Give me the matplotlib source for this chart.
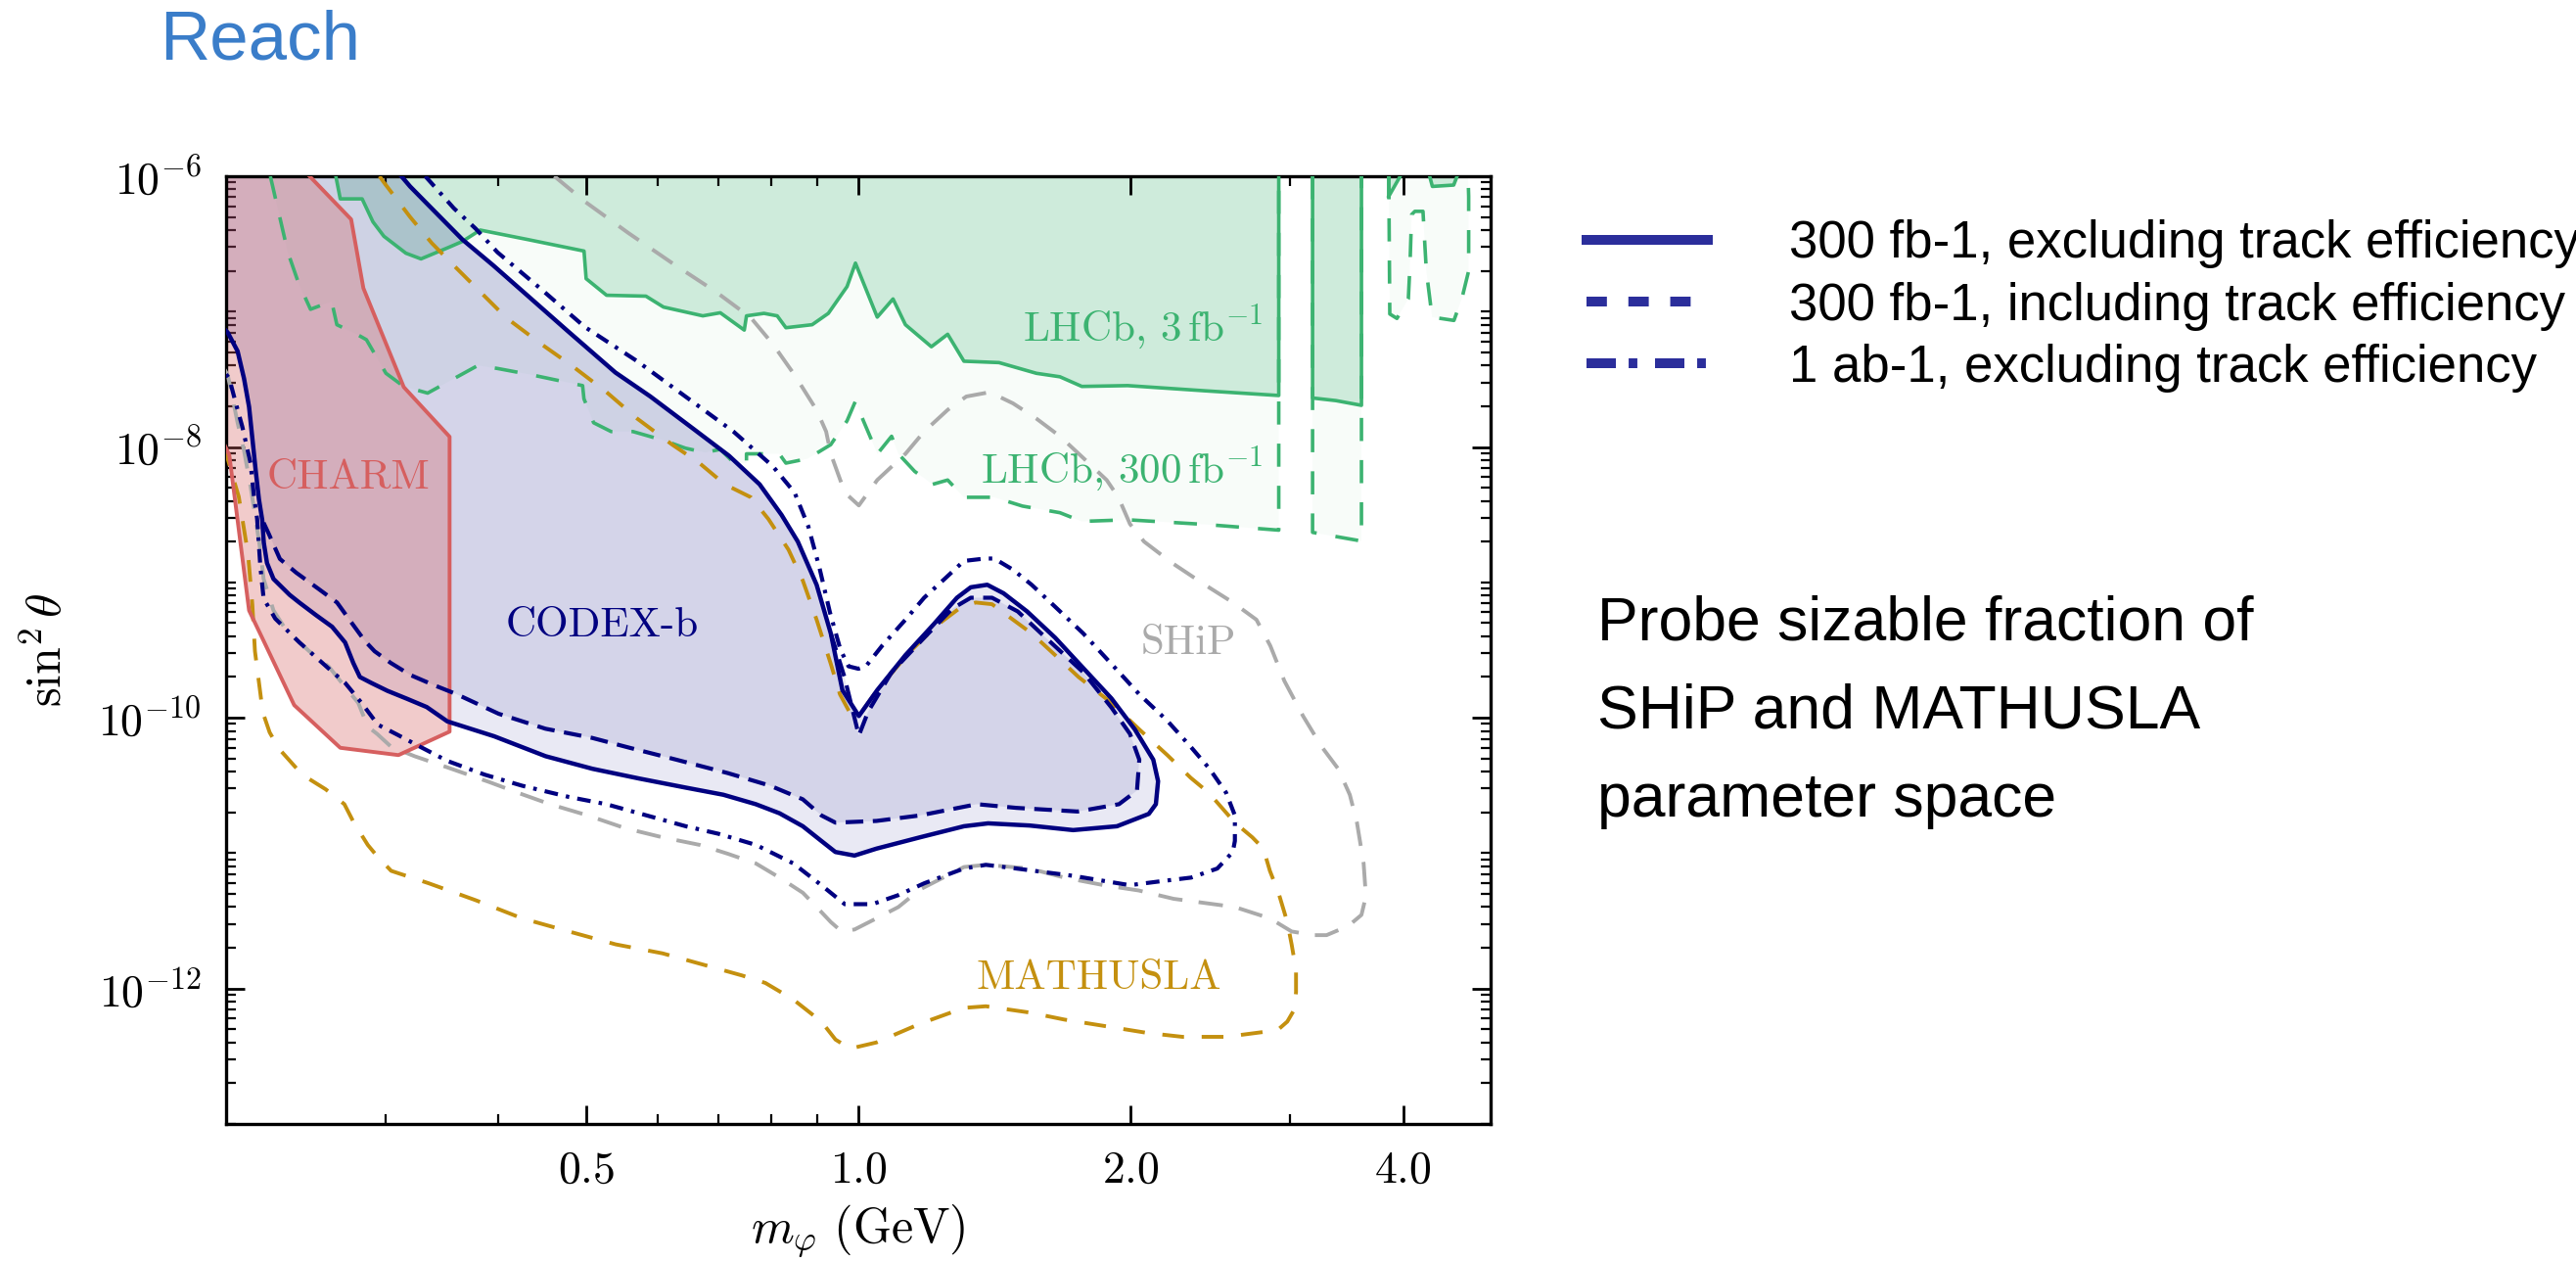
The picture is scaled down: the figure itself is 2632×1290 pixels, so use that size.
import numpy as np
import matplotlib
matplotlib.use("Agg")
import matplotlib.pyplot as plt
from matplotlib.ticker import FixedLocator, FixedFormatter, NullFormatter
from matplotlib.lines import Line2D

plt.rcParams['mathtext.fontset'] = 'cm'
plt.rcParams['lines.scale_dashes'] = False

# ---------------- data: m_phi (GeV) and sin^2 theta ----------------
charm_m = [0.2473, 0.2749, 0.2836, 0.3143, 0.3532, 0.3532, 0.3101, 0.2674, 0.2378, 0.2200, 0.2120, 0.2016, 0.1990]
charm_s = [1.0e-6, 4.8e-7, 1.49e-7, 2.77e-8, 1.19e-8, 7.9e-11, 5.3e-11, 6.0e-11, 1.24e-10, 3.7e-10, 6.2e-10, 8.7e-9, 1.05e-8]

# LHCb 3 fb^-1 (solid), four pieces
lhcb3_m = [0.2644, 0.2674, 0.2827, 0.2906, 0.2988, 0.3160, 0.3284, 0.3532, 0.3650, 0.3818, 0.4314, 0.4973,
           0.5000, 0.5267, 0.5822, 0.6088, 0.6729, 0.7035, 0.7478, 0.7520, 0.7863, 0.8132, 0.8314, 0.8888,
           0.9262, 0.9714, 0.9924, 1.049, 1.092, 1.127, 1.204, 1.255, 1.308, 1.430, 1.573, 1.670, 1.766,
           1.984, 2.415, 2.915, 2.915]
lhcb3_s = [1.0e-6, 6.8e-7, 6.8e-7, 4.6e-7, 3.6e-7, 2.7e-7, 2.45e-7, 3.0e-7, 3.3e-7, 4.0e-7, 3.4e-7, 2.8e-7,
           1.75e-7, 1.32e-7, 1.30e-7, 1.08e-7, 9.3e-8, 9.8e-8, 7.3e-8, 9.3e-8, 9.7e-8, 9.3e-8, 7.6e-8, 8.0e-8,
           9.7e-8, 1.53e-7, 2.28e-7, 9.1e-8, 1.24e-7, 8.0e-8, 5.5e-8, 6.8e-8, 4.3e-8, 4.2e-8, 3.5e-8, 3.3e-8, 2.8e-8,
           2.84e-8, 2.6e-8, 2.4e-8, 1.0e-6]
lhcb3b_m = [3.177, 3.177, 3.372, 3.598, 3.598]
lhcb3b_s = [1.0e-6, 2.3e-8, 2.2e-8, 2.03e-8, 1.0e-6]
lhcb3c_m = [3.857, 3.857, 3.971]
lhcb3c_s = [1.0e-6, 7.1e-7, 1.0e-6]
lhcb3d_m = [4.28, 4.31, 4.55, 4.59]
lhcb3d_s = [1.0e-6, 8.4e-7, 8.6e-7, 1.0e-6]

# LHCb 300 fb^-1 (dashed), three pieces
lhcb300_m = [0.2238, 0.2340, 0.2404, 0.2479, 0.2616, 0.2651, 0.2789, 0.2858, 0.3004, 0.3143, 0.3340, 0.3796,
             0.3990, 0.4361, 0.4955, 0.4972, 0.5096, 0.5328, 0.5632, 0.6088, 0.6437, 0.6766, 0.7035, 0.7274,
             0.7520, 0.7520, 0.8175, 0.8314, 0.8788, 0.9318, 0.9714, 0.9924, 1.0127, 1.0495, 1.088, 1.107,
             1.154, 1.208, 1.255, 1.308, 1.413, 1.518, 1.670, 1.766, 1.984, 2.415, 2.915, 2.915]
lhcb300_s = [1.0e-6, 2.74e-7, 1.63e-7, 1.04e-7, 1.19e-7, 8.0e-8, 6.8e-8, 6.2e-8, 3.5e-8, 2.8e-8, 2.5e-8, 4.0e-8,
             3.8e-8, 3.4e-8, 2.84e-8, 2.27e-8, 1.51e-8, 1.30e-8, 1.30e-8, 1.12e-8, 9.8e-9, 9.1e-9, 9.6e-9, 7.7e-9,
             7.6e-9, 8.9e-9, 8.9e-9, 7.6e-9, 8.2e-9, 1.04e-8, 1.56e-8, 2.18e-8, 1.56e-8, 8.9e-9, 1.2e-8, 8.9e-9,
             6.6e-9, 5.3e-9, 5.7e-9, 4.25e-9, 4.25e-9, 3.66e-9, 3.27e-9, 2.82e-9, 2.9e-9, 2.68e-9, 2.43e-9, 1.0e-6]
lhcb300b_m = [3.177, 3.177, 3.372, 3.598, 3.598]
lhcb300b_s = [1.0e-6, 2.34e-9, 2.18e-9, 2.02e-9, 1.0e-6]
lhcb300c_m = [3.857, 3.867, 3.938, 4.054, 4.071, 4.088, 4.122, 4.208, 4.226, 4.244, 4.307, 4.553, 4.649,
              4.727, 4.727, 4.720]
lhcb300c_s = [1.0e-6, 9.6e-8, 8.9e-8, 1.24e-7, 2.2e-7, 5.2e-7, 5.5e-7, 5.5e-7, 3.3e-7, 2.0e-7, 9.1e-8, 8.6e-8,
              1.27e-7, 2.0e-7, 7.1e-7, 1.0e-6]

# CODEX-b, split into shared upper branch, shared left edge and the two lower branches
codex_top_m = [0.3124, 0.3194, 0.3340, 0.3650, 0.3948, 0.4314, 0.4769, 0.5386, 0.5888, 0.6580, 0.7194,
               0.7775, 0.8222, 0.857, 0.899, 0.932]
codex_top_s = [1.0e-6, 8.4e-7, 6.2e-7, 3.4e-7, 2.19e-7, 1.30e-7, 7.2e-8, 3.55e-8, 2.36e-8, 1.35e-8, 8.6e-9,
               5.3e-9, 3.15e-9, 2.0e-9, 9.6e-10, 4.2e-10]
codex_sol_m = [0.960, 1.001, 1.049, 1.127, 1.211, 1.285, 1.331, 1.388, 1.447, 1.536, 1.650, 1.772, 1.904,
               2.021, 2.118, 2.144, 2.132, 2.094, 1.931, 1.727, 1.546, 1.391, 1.308, 1.170, 1.047, 0.990,
               0.943, 0.910, 0.868, 0.818, 0.770, 0.709, 0.644, 0.572, 0.508, 0.451, 0.3956, 0.3512, 0.3332,
               0.3170, 0.3016, 0.2893, 0.2811, 0.2764, 0.2707, 0.2619, 0.2512, 0.2409, 0.2350, 0.2256,
               0.2219, 0.2201]
codex_sol_s = [1.6e-10, 1.03e-10, 1.6e-10, 2.9e-10, 4.9e-10, 7.7e-10, 9.2e-10, 9.6e-10, 8.3e-10, 6.1e-10,
               3.9e-10, 2.33e-10, 1.39e-10, 8.2e-11, 4.9e-11, 3.4e-11, 2.3e-11, 1.95e-11, 1.58e-11, 1.48e-11,
               1.6e-11, 1.66e-11, 1.58e-11, 1.31e-11, 1.08e-11, 9.6e-12, 1.02e-11, 1.23e-11, 1.58e-11, 1.97e-11,
               2.3e-11, 2.7e-11, 3.05e-11, 3.56e-11, 4.2e-11, 5.2e-11, 7.3e-11, 9.4e-11, 1.2e-10, 1.38e-10,
               1.58e-10, 1.81e-10, 2.0e-10, 2.54e-10, 3.6e-10, 4.7e-10, 5.75e-10, 7.1e-10, 8.1e-10, 1.06e-9,
               1.39e-9, 1.96e-9]
codex_dash_m = [0.965, 1.001, 1.025, 1.088, 1.182, 1.270, 1.331, 1.405, 1.500, 1.611, 1.772, 1.904, 1.996,
                2.044, 2.032, 1.941, 1.747, 1.495, 1.352, 1.170, 1.047, 0.9432, 0.9100, 0.8678, 0.7986, 0.7173,
                0.6292, 0.5586, 0.5077, 0.4508, 0.4002, 0.3590, 0.3388, 0.3196, 0.3041, 0.2918, 0.2846, 0.2754,
                0.2652, 0.2533, 0.2390, 0.2293, 0.2228]
codex_dash_s = [2.0e-10, 7.4e-11, 1.11e-10, 2.17e-10, 3.9e-10, 6.4e-10, 7.7e-10, 7.7e-10, 6.1e-10, 3.9e-10,
                2.17e-10, 1.19e-10, 7.6e-11, 4.9e-11, 2.9e-11, 2.3e-11, 2.03e-11, 2.16e-11, 2.3e-11, 1.9e-11,
                1.73e-11, 1.68e-11, 1.9e-11, 2.5e-11, 3.15e-11, 3.9e-11, 4.9e-11, 6.0e-11, 7.1e-11, 8.3e-11,
                1.07e-10, 1.5e-10, 1.75e-10, 2.07e-10, 2.54e-10, 3.1e-10, 3.7e-10, 5.0e-10, 7.1e-10, 8.9e-10,
                1.18e-9, 1.49e-9, 2.3e-9]
codex_left_m = [0.2192, 0.2174, 0.2156, 0.2138, 0.2120, 0.2093, 0.2059, 0.2008, 0.1985]
codex_left_s = [2.9e-9, 4.1e-9, 6.7e-9, 1.15e-8, 1.98e-8, 3.2e-8, 5.1e-8, 7.0e-8, 7.6e-8]

# CODEX-b 1 ab^-1 (dash-dot)
ab_m = [0.332, 0.3570, 0.3774, 0.3990, 0.4461, 0.4983, 0.5694, 0.6437, 0.7274, 0.8042, 0.8500, 0.880, 0.905,
        0.930, 0.955, 0.975, 1.000, 1.019, 1.062, 1.127, 1.182, 1.247, 1.308, 1.380, 1.413, 1.482, 1.554,
        1.650, 1.772, 1.904, 2.044, 2.195, 2.330, 2.444, 2.549, 2.607, 2.607, 2.593, 2.493, 2.332, 2.158,
        1.995, 1.727, 1.495, 1.383, 1.308, 1.183, 1.107, 1.036, 0.9658, 0.9100, 0.8472, 0.7705, 0.7003,
        0.6444, 0.5720, 0.5263, 0.4786, 0.4247, 0.3862, 0.3512, 0.3278, 0.3092, 0.2942, 0.2822, 0.2707,
        0.2598, 0.2410, 0.2266, 0.2200, 0.2182, 0.2164, 0.2146, 0.2128, 0.2084, 0.2050, 0.2016, 0.1990]
ab_s = [1.0e-6, 5.8e-7, 4.1e-7, 2.74e-7, 1.46e-7, 7.7e-8, 4.3e-8, 2.36e-8, 1.30e-8, 7.2e-9, 4.6e-9, 2.6e-9,
        1.3e-9, 6.0e-10, 3.2e-10, 2.4e-10, 2.3e-10, 2.4e-10, 3.4e-10, 5.3e-10, 7.7e-10, 1.07e-9, 1.44e-9,
        1.5e-9, 1.5e-9, 1.24e-9, 9.6e-10, 6.6e-10, 4.2e-10, 2.5e-10, 1.49e-10, 9.5e-11, 6.1e-11, 4.2e-11,
        2.8e-11, 1.9e-11, 1.23e-11, 1.02e-11, 7.7e-12, 6.6e-12, 6.2e-12, 5.8e-12, 6.8e-12, 7.7e-12, 8.2e-12,
        7.7e-12, 6.0e-12, 4.9e-12, 4.2e-12, 4.2e-12, 5.8e-12, 8.4e-12, 1.15e-11, 1.39e-11, 1.58e-11, 1.97e-11,
        2.3e-11, 2.6e-11, 3.15e-11, 3.8e-11, 4.8e-11, 6.1e-11, 7.5e-11, 8.9e-11, 1.29e-10, 1.81e-10, 2.3e-10,
        3.6e-10, 5.4e-10, 7.6e-10, 1.3e-9, 2.94e-9, 4.4e-9, 7.6e-9, 1.41e-8, 2.1e-8, 3.2e-8, 3.6e-8]

# SHiP
ship_m = [0.4611, 0.4983, 0.5569, 0.6225, 0.6957, 0.7605, 0.8042, 0.8500, 0.8987, 0.921, 0.932, 0.966, 1.001,
          1.049, 1.127, 1.182, 1.255, 1.316, 1.397, 1.482, 1.573, 1.670, 1.772, 1.881, 1.938, 1.996, 2.069,
          2.222, 2.415, 2.594, 2.754, 2.853, 2.957, 3.101, 3.252, 3.391, 3.493, 3.557, 3.618, 3.639, 3.598,
          3.480, 3.292, 3.184, 3.012, 2.850, 2.607, 2.231, 2.041, 1.867, 1.689, 1.546, 1.383, 1.308, 1.170,
          1.107, 1.047, 0.990, 0.958, 0.932, 0.899, 0.868, 0.818, 0.770, 0.717, 0.668, 0.607, 0.552, 0.502,
          0.456, 0.4198, 0.3908, 0.3512, 0.3231, 0.3044, 0.2937, 0.2868, 0.2799, 0.2707, 0.2598, 0.2471,
          0.2332, 0.2256, 0.2200, 0.2182, 0.2156, 0.2128, 0.2093, 0.2059, 0.2025, 0.2008, 0.1980]
ship_s = [1.0e-6, 6.5e-7, 3.8e-7, 2.28e-7, 1.40e-7, 9.0e-8, 5.75e-8, 3.4e-8, 1.88e-8, 1.30e-8, 8.9e-9, 4.6e-9,
          3.7e-9, 5.7e-9, 8.9e-9, 1.30e-8, 1.88e-8, 2.36e-8, 2.54e-8, 2.1e-8, 1.62e-8, 1.2e-8, 8.3e-9, 5.7e-9,
          4.25e-9, 2.7e-9, 2.0e-9, 1.39e-9, 9.6e-10, 7.1e-10, 5.3e-10, 3.4e-10, 1.87e-10, 1.03e-10, 6.1e-11,
          4.2e-11, 2.7e-11, 1.68e-11, 8.4e-12, 4.8e-12, 3.5e-12, 2.9e-12, 2.48e-12, 2.48e-12, 2.64e-12, 3.3e-12,
          4.0e-12, 4.6e-12, 5.3e-12, 5.8e-12, 6.6e-12, 7.7e-12, 8.2e-12, 7.9e-12, 5.4e-12, 4.0e-12, 3.3e-12,
          2.73e-12, 2.64e-12, 3.1e-12, 4.0e-12, 5.1e-12, 6.6e-12, 8.4e-12, 9.9e-12, 1.15e-11, 1.31e-11, 1.53e-11,
          1.9e-11, 2.3e-11, 2.8e-11, 3.35e-11, 4.3e-11, 5.2e-11, 6.1e-11, 7.6e-11, 8.6e-11, 1.29e-10, 1.69e-10,
          2.38e-10, 3.1e-10, 4.4e-10, 6.2e-10, 1.06e-9, 1.71e-9, 2.94e-9, 5.1e-9, 9.4e-9, 1.51e-8, 2.6e-8,
          3.4e-8, 4.0e-8]

# MATHUSLA
math_m = [0.2955, 0.2988, 0.3194, 0.3376, 0.3570, 0.3818, 0.4080, 0.4461, 0.4818, 0.5267, 0.5694, 0.6225,
          0.6656, 0.7115, 0.7605, 0.7953, 0.837, 0.868, 0.899, 0.932, 0.954, 0.977, 1.001, 1.049, 1.141, 1.225,
          1.300, 1.348, 1.405, 1.482, 1.554, 1.650, 1.751, 1.904, 2.044, 2.195, 2.330, 2.438, 2.607, 2.725,
          2.803, 2.850, 2.913, 2.979, 3.012, 3.046, 3.046, 3.029, 2.979, 2.913, 2.818, 2.549, 2.281, 2.087,
          1.867, 1.689, 1.546, 1.383, 1.308, 1.170, 1.047, 0.979, 0.9432, 0.9100, 0.8472, 0.7890, 0.7433,
          0.6839, 0.6072, 0.5390, 0.4786, 0.4248, 0.3772, 0.3347, 0.3044, 0.2937, 0.2868, 0.2768, 0.2702,
          0.2577, 0.2427, 0.2288, 0.2234, 0.2195, 0.2182, 0.2152, 0.2138, 0.2115, 0.2065, 0.2030, 0.2000, 0.1970]
math_s = [1.0e-6, 9.0e-7, 5.0e-7, 3.2e-7, 2.19e-7, 1.40e-7, 9.0e-8, 5.75e-8, 4.0e-8, 2.54e-8, 1.62e-8, 1.04e-8,
          7.7e-9, 5.3e-9, 4.25e-9, 2.93e-9, 1.74e-9, 1.03e-9, 5.3e-10, 2.5e-10, 1.49e-10, 1.11e-10, 1.03e-10,
          1.6e-10, 3.1e-10, 4.9e-10, 6.6e-10, 7.1e-10, 6.9e-10, 5.3e-10, 4.2e-10, 2.9e-10, 2.0e-10, 1.29e-10,
          8.2e-11, 5.3e-11, 3.6e-11, 2.8e-11, 1.68e-11, 1.31e-11, 1.08e-11, 7.4e-12, 5.1e-12, 3.1e-12, 2.12e-12,
          1.37e-12, 9.4e-13, 6.9e-13, 5.7e-13, 5.0e-13, 4.8e-13, 4.4e-13, 4.4e-13, 4.7e-13, 5.3e-13, 5.9e-13,
          6.65e-13, 7.4e-13, 7.2e-13, 5.5e-13, 4.0e-13, 3.6e-13, 4.2e-13, 5.7e-13, 8.3e-13, 1.1e-12, 1.25e-12,
          1.46e-12, 1.82e-12, 2.12e-12, 2.64e-12, 3.3e-12, 4.5e-12, 6.0e-12, 7.4e-12, 9.5e-12, 1.15e-11,
          1.68e-11, 2.3e-11, 2.96e-11, 3.8e-11, 5.9e-11, 7.8e-11, 1.1e-10, 1.51e-10, 3.1e-10, 6.8e-10, 1.6e-9,
          4.3e-9, 6.3e-9, 9.0e-9, 1.1e-8]

xticks = [0.5, 1.0, 2.0, 4.0]
xtick_labels = ['$0.5$', '$1.0$', '$2.0$', '$4.0$']
xminor = [0.3, 0.4, 0.6, 0.7, 0.8, 0.9, 3.0]
yticks = [1e-12, 1e-10, 1e-8, 1e-6]
ytick_labels = ['$10^{-12}$', '$10^{-10}$', '$10^{-8}$', '$10^{-6}$']

legend_labels = ['300 fb-1, excluding track efficiency',
                 '300 fb-1, including track efficiency',
                 '1 ab-1, excluding track efficiency']

navy = '#000080'
green = '#3cb371'
red = '#d65f5f'
grey = '#aaaaaa'
gold = '#c4900f'

xlo, xhi = 0.2, 5.0
ylo, yhi = 1e-13, 1e-6

fig = plt.figure(figsize=(13.16, 6.45), dpi=200)
ax = fig.add_axes([0.0878, 0.1101, 0.4909, 0.7504])
ax.set_xscale('log')
ax.set_yscale('log')

# outside-of-frame helpers for closing the filled regions
xout = xlo * 0.95
yout = yhi * 1.2


def top_region(m, s, color, alpha):
    ax.fill(m + [m[-1], m[0]], s + [yout, yout], color=color, alpha=alpha, lw=0, zorder=1)


# LHCb 300 fb-1 (very pale) and 3 fb-1 fills
for m, s in [(lhcb300_m, lhcb300_s), (lhcb300b_m, lhcb300b_s), (lhcb300c_m, lhcb300c_s)]:
    top_region(m, s, green, 0.035)
for m, s in [(lhcb3_m, lhcb3_s), (lhcb3b_m, lhcb3b_s), (lhcb3c_m, lhcb3c_s), (lhcb3d_m, lhcb3d_s)]:
    top_region(m, s, green, 0.22)

# CODEX-b fills
sol_m = codex_top_m + codex_sol_m + codex_left_m
sol_s = codex_top_s + codex_sol_s + codex_left_s
dsh_m = codex_top_m + codex_dash_m + codex_left_m
dsh_s = codex_top_s + codex_dash_s + codex_left_s
for m, s in [(sol_m, sol_s), (dsh_m, dsh_s)]:
    ax.fill(m + [xout, xout, m[0]], s + [s[-1], yout, yout], color=navy, alpha=0.085, lw=0, zorder=2)

# CHARM fill
ax.fill(charm_m + [xout, xout, charm_m[0]], charm_s + [charm_s[-1], yout, yout],
        color=red, alpha=0.32, lw=0, zorder=2)

# boundary lines
for m, s in [(lhcb3_m, lhcb3_s), (lhcb3b_m, lhcb3b_s), (lhcb3c_m[1:], lhcb3c_s[1:]), (lhcb3d_m, lhcb3d_s)]:
    ax.plot(m, s, color=green, lw=1.3, zorder=3)
ax.plot([lhcb3c_m[0], lhcb3c_m[1]], [lhcb3c_s[0], lhcb3c_s[1]], color=green, lw=1.3, zorder=3)
for m, s in [(lhcb300_m, lhcb300_s), (lhcb300b_m, lhcb300b_s), (lhcb300c_m, lhcb300c_s)]:
    ax.plot(m, s, color=green, lw=1.3, ls=(0, (8.5, 7)), zorder=3)

ax.plot(ship_m, ship_s, color=grey, lw=1.4, ls=(0, (9, 6)), zorder=3)
ax.plot(math_m, math_s, color=gold, lw=1.4, ls=(0, (8, 6.5)), zorder=3)
ax.plot(charm_m, charm_s, color=red, lw=1.4, zorder=3)

ax.plot(ab_m, ab_s, color=navy, lw=1.5, ls=(0, (5, 3, 1.3, 3)), zorder=4)
ax.plot([codex_top_m[-1]] + codex_dash_m + [codex_left_m[0]],
        [codex_top_s[-1]] + codex_dash_s + [codex_left_s[0]],
        color=navy, lw=1.5, ls=(0, (6.5, 3.5)), zorder=4)
ax.plot(sol_m, sol_s, color=navy, lw=1.6, zorder=5)

# region labels
cm = dict(fontfamily='cmr10', fontsize=15.5, zorder=6)
ax.text(0.273, 4.9e-9, 'CHARM', color=red, ha='center', va='baseline', **cm)
ax.text(0.521, 4.0e-10, 'CODEX-b', color=navy, ha='center', va='baseline', **cm)
ax.text(2.80, 6.1e-8, r'LHCb, $3\,\mathrm{fb}^{-1}$', color=green, ha='right', va='baseline', **cm)
ax.text(2.80, 5.4e-9, r'LHCb, $300\,\mathrm{fb}^{-1}$', color=green, ha='right', va='baseline', **cm)
ax.text(2.316, 2.96e-10, 'SHiP', color=grey, ha='center', va='baseline', **cm)
ax.text(1.846, 9.9e-13, 'MATHUSLA', color=gold, ha='center', va='baseline', **cm)

# axes cosmetics
ax.set_xlim(xlo, xhi)
ax.set_ylim(ylo, yhi)
ax.xaxis.set_major_locator(FixedLocator(xticks))
ax.xaxis.set_major_formatter(FixedFormatter(xtick_labels))
ax.xaxis.set_minor_locator(FixedLocator(xminor))
ax.xaxis.set_minor_formatter(NullFormatter())
yminor = [k * 10.0 ** n for n in range(-13, -6) for k in range(1, 10)
          if not (k == 1 and n % 2 == 0)]
ax.yaxis.set_major_locator(FixedLocator(yticks))
ax.yaxis.set_major_formatter(FixedFormatter(ytick_labels))
ax.yaxis.set_minor_locator(FixedLocator(yminor))
ax.yaxis.set_minor_formatter(NullFormatter())
ax.tick_params(which='both', direction='in', top=True, right=True, labelsize=16.5, pad=9)
ax.tick_params(which='major', length=7, width=1.0)
ax.tick_params(which='minor', length=3.5, width=0.8)
for sp in ax.spines.values():
    sp.set_linewidth(1.2)
ax.set_xlabel(r'$m_\varphi\ (\mathrm{GeV})$', fontsize=18, labelpad=4)
ax.set_ylabel(r'$\sin^2\theta$', fontsize=18, labelpad=10)

# legend for the three CODEX-b curves
leg_col = '#2b2e9b'
handles = [Line2D([], [], color=leg_col, lw=3.6),
           Line2D([], [], color=leg_col, lw=3.6, ls=(0, (7.5, 7.9))),
           Line2D([], [], color=leg_col, lw=3.6, ls=(0, (10.8, 4.7, 3.2, 6.5)))]
fig.legend(handles, legend_labels, loc='upper left', bbox_to_anchor=(0.6159, 0.826),
           frameon=False, borderpad=0, borderaxespad=0, handlelength=2.35, handletextpad=1.57,
           labelspacing=0.25, prop={'family': 'Liberation Sans', 'size': 19})

fig.text(0.062, 0.953, 'Reach', color='#3a7dc9', fontsize=25.5, family='Liberation Sans', va='baseline')
fig.text(0.62, 0.4364, 'Probe sizable fraction of\nSHiP and MATHUSLA\nparameter space',
         fontsize=22.5, family='Liberation Sans', ha='left', va='center', linespacing=1.68)

fig.savefig('out.png', dpi=200)
